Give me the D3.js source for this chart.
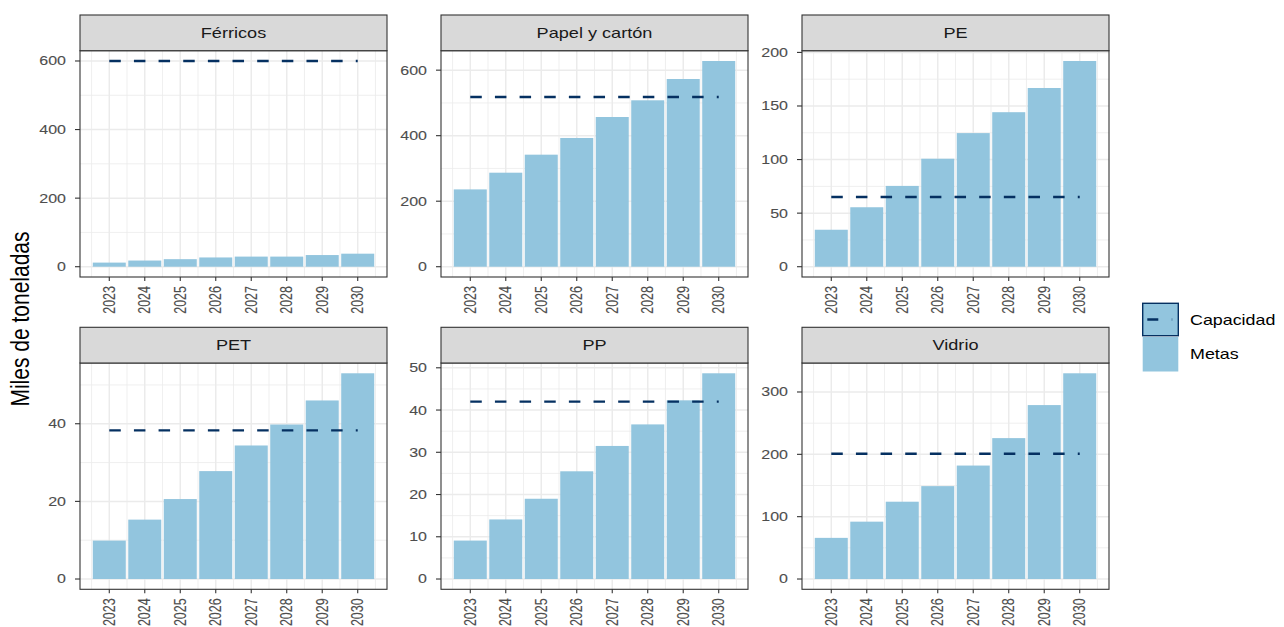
<!DOCTYPE html>
<html>
<head>
<meta charset="utf-8">
<script src="https://cdn.jsdelivr.net/npm/d3@7"></script>
<style>
  html, body { margin: 0; padding: 0; background: #fff; }
  svg { display: block; }
</style>
</head>
<body>
<div id="chart"></div>
<script>
const years = [2023, 2024, 2025, 2026, 2027, 2028, 2029, 2030];
const materials = ['Férricos', 'Papel y cartón', 'PE', 'PET', 'PP', 'Vidrio'];

// Metas (miles de toneladas), one array per material
const metasFerricos = [12, 18, 22, 27, 29.5, 29.5, 34, 38];
const metasPapel = [236, 287, 342, 393, 457, 508, 573, 628];
const metasPE = [34.5, 55.5, 75.4, 100.8, 124.7, 144.2, 166.8, 192];
const metasPET = [9.9, 15.3, 20.6, 27.8, 34.4, 39.8, 46.0, 53.0];
const metasPP = [9.1, 14.1, 19.0, 25.5, 31.5, 36.6, 42.3, 48.7];
const metasVidrio = [66, 92, 124, 149, 182, 226, 279, 330];

// Capacidad (constant line per material)
const capacidad = [600, 518, 65, 38.3, 42, 201];

// y break step per panel
const yBreakStep = [200, 200, 50, 20, 10, 100];

const metas = [metasFerricos, metasPapel, metasPE, metasPET, metasPP, metasVidrio];
const legendLabels = ['Capacidad', 'Metas'];

const W = 1284, H = 627;
const BAR = '#92C5DE', LINE = '#053061', GRID = '#EBEBEB', BORDER = '#333333';
const SX = 1.25; // horizontal text stretch seen in the reference
const FONT = '"Liberation Sans", Arial, sans-serif';

const colLeft = [80, 441, 802], panelW = 307;
const stripTop = [15, 327.3], stripH = 35.7, panelH = 226.3;

const svg = d3.select('#chart').append('svg')
  .attr('width', W).attr('height', H)
  .style('background', '#fff');

// stretched text helper
function label(g, txt, x, y, opts) {
  const o = Object.assign({ size: 12.8, fill: '#4D4D4D', anchor: 'middle', rot: 0, dy: '0.35em', sw: 0.1 }, opts);
  g.append('text')
    .attr('transform', `translate(${x},${y}) scale(${SX},1)` + (o.rot ? ` rotate(${o.rot})` : ''))
    .attr('text-anchor', o.anchor).attr('dy', o.dy)
    .attr('font-family', FONT).attr('font-size', o.size).attr('fill', o.fill)
    .attr('stroke', o.fill).attr('stroke-width', o.sw)
    .text(txt);
}

materials.forEach((name, i) => {
  const col = i % 3, row = Math.floor(i / 3);
  const x0 = colLeft[col], sTop = stripTop[row], pTop = sTop + stripH;
  const g = svg.append('g');

  const vals = metas[i];
  const maxV = Math.max(d3.max(vals), capacidad[i]);
  const y = d3.scaleLinear().domain([-0.05 * maxV, 1.05 * maxV]).range([pTop + panelH, pTop]);
  const x = d3.scaleLinear().domain([2022.175, 2030.825]).range([x0, x0 + panelW]);

  const step = yBreakStep[i];
  const majors = d3.range(0, maxV * 1.05 + 1e-9, step);
  const minors = d3.range(step / 2, maxV * 1.05, step);
  const xMinors = d3.range(2022.5, 2031, 1);

  // grid
  const grid = g.append('g');
  grid.selectAll('.ymin').data(minors).join('line')
    .attr('x1', x0).attr('x2', x0 + panelW).attr('y1', d => y(d)).attr('y2', d => y(d))
    .attr('stroke', GRID).attr('stroke-width', 0.8);
  grid.selectAll('.xmin').data(xMinors).join('line')
    .attr('x1', d => x(d)).attr('x2', d => x(d)).attr('y1', pTop).attr('y2', pTop + panelH)
    .attr('stroke', GRID).attr('stroke-width', 0.8);
  grid.selectAll('.ymaj').data(majors).join('line')
    .attr('x1', x0).attr('x2', x0 + panelW).attr('y1', d => y(d)).attr('y2', d => y(d))
    .attr('stroke', GRID).attr('stroke-width', 1.5);
  grid.selectAll('.xmaj').data(years).join('line')
    .attr('x1', d => x(d)).attr('x2', d => x(d)).attr('y1', pTop).attr('y2', pTop + panelH)
    .attr('stroke', GRID).attr('stroke-width', 1.5);

  // bars
  const bw = 0.93;
  g.append('g').selectAll('rect').data(years).join('rect')
    .attr('x', d => x(d - bw / 2)).attr('width', x(bw) - x(0))
    .attr('y', (d, j) => y(vals[j])).attr('height', (d, j) => y(0) - y(vals[j]))
    .attr('fill', BAR);

  // capacidad line
  g.append('line')
    .attr('x1', x(years[0])).attr('x2', x(years[years.length - 1]))
    .attr('y1', y(capacidad[i])).attr('y2', y(capacidad[i]))
    .attr('stroke', LINE).attr('stroke-width', 2.4).attr('stroke-dasharray', '11.5,13.15');

  // panel border
  g.append('rect').attr('x', x0).attr('y', pTop).attr('width', panelW).attr('height', panelH)
    .attr('fill', 'none').attr('stroke', BORDER).attr('stroke-width', 1.1);

  // strip
  g.append('rect').attr('x', x0).attr('y', sTop).attr('width', panelW).attr('height', stripH)
    .attr('fill', '#D9D9D9').attr('stroke', BORDER).attr('stroke-width', 1.1);
  label(g, name, x0 + panelW / 2, sTop + stripH / 2, { size: 14.5, fill: '#1A1A1A', sw: 0 });

  // y axis ticks and labels
  majors.forEach(v => {
    g.append('line').attr('x1', x0 - 5).attr('x2', x0).attr('y1', y(v)).attr('y2', y(v))
      .attr('stroke', BORDER).attr('stroke-width', 1.1);
    label(g, d3.format('d')(v), x0 - 14, y(v), { anchor: 'end' });
  });

  // x axis ticks and labels
  years.forEach(yr => {
    g.append('line').attr('x1', x(yr)).attr('x2', x(yr)).attr('y1', pTop + panelH).attr('y2', pTop + panelH + 4)
      .attr('stroke', BORDER).attr('stroke-width', 1.1);
    label(g, String(yr), x(yr), pTop + panelH + 9, { anchor: 'end', rot: -90, size: 12.5 });
  });
});

// y axis title
label(svg, 'Miles de toneladas', 20, 319, { rot: -90, size: 21, fill: '#000', anchor: 'middle', sw: 0 });

// legend
const lg = svg.append('g');
const keyX = 1142.7, keyW = 35.6, keyTop = [303.3, 337], keyH = [32.4, 34.5];
lg.append('rect').attr('x', keyX).attr('y', keyTop[1]).attr('width', keyW).attr('height', keyH[1])
  .attr('fill', BAR);
lg.append('rect').attr('x', keyX).attr('y', keyTop[0]).attr('width', keyW).attr('height', keyH[0])
  .attr('fill', BAR).attr('stroke', LINE).attr('stroke-width', 1.4);
lg.append('line').attr('x1', keyX + 4.6).attr('x2', keyX + 29.5)
  .attr('y1', keyTop[0] + keyH[0] / 2).attr('y2', keyTop[0] + keyH[0] / 2)
  .attr('stroke', LINE).attr('stroke-width', 2.4).attr('stroke-dasharray', '11,13.5');
legendLabels.forEach((t, k) => {
  label(lg, t, 1190, keyTop[k] + keyH[k] / 2, { anchor: 'start', size: 14.3, fill: '#000', sw: 0 });
});
</script>
</body>
</html>
